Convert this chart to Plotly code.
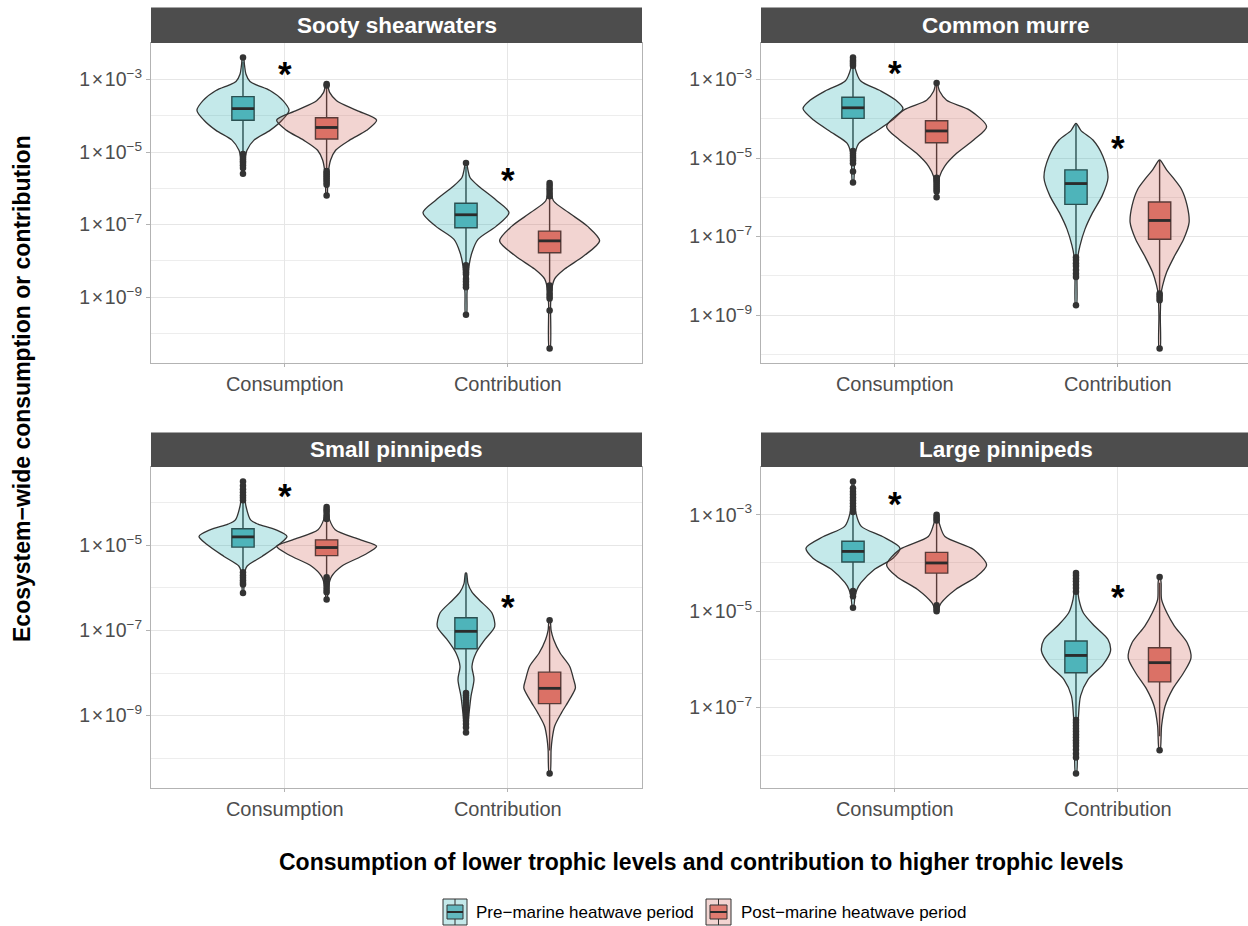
import numpy as np
import plotly.graph_objects as go

# ---------------------------------------------------------------------------
# Data (all values are log10 of ecosystem-wide consumption / contribution)
# *_lvl  : log10 levels along each violin outline (top to bottom)
# *_dens : kernel density height at those levels
# *_box  : [q1, median, q3, lower whisker, upper whisker]
# *_out  : outlying points
# ---------------------------------------------------------------------------
species = ["Sooty shearwaters", "Common murre", "Small pinnipeds", "Large pinnipeds"]
metrics = ["Consumption", "Contribution"]
periods = ["Pre\u2212marine heatwave period", "Post\u2212marine heatwave period"]

# Sooty shearwaters
sooty_cons_pre_lvl = [-2.39, -2.6, -2.85, -3.05, -3.15, -3.3, -3.58, -3.85, -4.12, -4.4, -4.67, -4.95, -5.2, -5.6]
sooty_cons_pre_dens = [0.5, 1.5, 3, 7, 14, 27, 40, 46, 39, 27, 11, 4, 2, 0.5]
sooty_cons_pre_box = [-4.12, -3.80, -3.47, -5.02, -2.5]
sooty_cons_pre_out = [-2.39, -5.05, -5.1, -5.15, -5.2, -5.25, -5.3, -5.36, -5.44, -5.6]

sooty_cons_post_lvl = [-3.12, -3.35, -3.58, -3.85, -4.12, -4.4, -4.67, -4.95, -5.22, -5.5, -5.9, -6.2]
sooty_cons_post_dens = [0.5, 3, 10, 30, 50, 40, 23, 9, 4, 2, 1, 0.5]
sooty_cons_post_box = [-4.64, -4.32, -4.05, -5.5, -3.2]
sooty_cons_post_out = [-3.12, -3.16, -5.52, -5.57, -5.62, -5.67, -5.72, -5.78, -5.84, -5.9, -6.2]

sooty_contr_pre_lvl = [-5.30, -5.5, -5.7, -5.95, -6.32, -6.67, -7.05, -7.41, -7.77, -8.14, -8.5, -8.9, -9.49]
sooty_contr_pre_dens = [0.5, 2, 4, 13, 30, 43, 30, 12, 6, 3, 2, 1, 0.5]
sooty_contr_pre_box = [-7.09, -6.73, -6.41, -8.1, -5.4]
sooty_contr_pre_out = [-5.30, -8.12, -8.18, -8.25, -8.32, -8.37, -8.5, -8.58, -8.66, -8.73, -9.49]

sooty_contr_post_lvl = [-5.85, -6.1, -6.35, -6.67, -7.05, -7.45, -7.87, -8.23, -8.5, -8.8, -9.2, -10.42]
sooty_contr_post_dens = [0.5, 1.5, 4, 19, 38, 50, 34, 15, 5, 2, 1, 0.5]
sooty_contr_post_box = [-7.78, -7.45, -7.18, -8.65, -6.28]
sooty_contr_post_out = [-5.85, -5.92, -6.0, -6.07, -6.14, -6.22, -8.68, -8.75, -8.82, -8.9, -8.97, -9.04, -9.37, -10.42]

# Common murre
murre_cons_pre_lvl = [-2.44, -2.7, -3.03, -3.28, -3.53, -3.74, -4.04, -4.37, -4.62, -4.84, -5.1, -5.62]
murre_cons_pre_dens = [0.5, 2, 7.5, 27, 43, 50, 39, 20, 6, 2.5, 1.5, 0.5]
murre_cons_pre_box = [-3.99, -3.72, -3.45, -4.8, -2.7]
murre_cons_pre_out = [-2.44, -2.5, -2.55, -2.6, -2.65, -4.82, -4.88, -4.94, -5.0, -5.06, -5.13, -5.34, -5.62]

murre_cons_post_lvl = [-3.09, -3.3, -3.53, -3.78, -4.2, -4.54, -4.88, -5.21, -5.47, -5.75, -6.0]
murre_cons_post_dens = [0.5, 3, 10, 33, 50, 37, 20, 8, 3, 1.5, 0.5]
murre_cons_post_box = [-4.61, -4.31, -4.05, -5.45, -3.15]
murre_cons_post_out = [-3.09, -5.5, -5.55, -5.6, -5.65, -5.7, -5.75, -5.8, -5.85, -6.0]

murre_contr_pre_lvl = [-4.12, -4.3, -4.54, -4.96, -5.5, -5.97, -6.39, -6.81, -7.23, -7.49, -8.0, -8.75]
murre_contr_pre_dens = [0.5, 5, 17, 27, 32, 26, 16.6, 9, 4, 2, 1, 0.5]
murre_contr_pre_box = [-6.18, -5.65, -5.30, -7.5, -4.12]
murre_contr_pre_out = [-7.53, -7.6, -7.68, -7.75, -7.85, -7.95, -8.03, -8.75]

murre_contr_post_lvl = [-5.05, -5.3, -5.55, -5.80, -6.22, -6.64, -7.07, -7.49, -7.91, -8.25, -8.45, -9.0, -9.85]
murre_contr_post_dens = [0.5, 7, 15, 22, 27.6, 29.5, 24, 15, 7, 3, 1.5, 0.7, 0.5]
murre_contr_post_box = [-7.07, -6.59, -6.12, -8.42, -5.05]
murre_contr_post_out = [-8.45, -8.5, -8.56, -8.62, -9.85]

# Small pinnipeds
small_cons_pre_lvl = [-3.50, -3.8, -4.08, -4.40, -4.5, -4.63, -4.79, -4.98, -5.26, -5.49, -5.61, -5.9, -6.12]
small_cons_pre_dens = [0.5, 1.5, 3, 7.6, 15, 32.5, 44, 36, 19, 4, 2, 1, 0.5]
small_cons_pre_box = [-5.04, -4.80, -4.61, -5.6, -3.98]
small_cons_pre_out = [-3.50, -3.6, -3.68, -3.75, -3.82, -3.88, -3.94, -5.63, -5.7, -5.76, -5.82, -5.88, -5.92, -6.12]

small_cons_post_lvl = [-4.10, -4.4, -4.63, -4.87, -5.02, -5.22, -5.49, -5.73, -6.0, -6.27]
small_cons_post_dens = [0.5, 3, 8.6, 34, 50, 38, 15, 5, 1.5, 0.5]
small_cons_post_box = [-5.24, -5.05, -4.87, -5.72, -4.4]
small_cons_post_out = [-4.10, -4.15, -4.2, -4.26, -4.32, -4.38, -5.75, -5.8, -5.86, -5.92, -5.98, -6.04, -6.1, -6.27]

small_contr_pre_lvl = [-5.65, -5.9, -6.1, -6.3, -6.59, -6.91, -7.21, -7.53, -7.84, -8.15, -8.55, -8.95, -9.4]
small_contr_pre_dens = [0.5, 2, 6, 14, 26, 28.7, 19, 10, 6, 8, 5, 3, 0.5]
small_contr_pre_box = [-7.43, -7.02, -6.70, -8.45, -5.65]
small_contr_pre_out = [-8.47, -8.52, -8.58, -8.64, -8.7, -8.76, -8.82, -8.88, -8.94, -9.0, -9.06, -9.12, -9.2, -9.28, -9.4]

small_contr_post_lvl = [-6.76, -7.0, -7.21, -7.53, -7.84, -8.15, -8.35, -8.62, -8.93, -9.25, -9.56, -9.8, -10.36]
small_contr_post_dens = [0.5, 1.5, 4, 10.5, 20, 24, 25.8, 20, 12, 5, 2.5, 1.5, 0.5]
small_contr_post_box = [-8.72, -8.36, -7.98, -9.82, -6.9]
small_contr_post_out = [-6.76, -10.36]

# Large pinnipeds
large_cons_pre_lvl = [-2.31, -2.6, -2.97, -3.24, -3.45, -3.69, -3.90, -4.14, -4.41, -4.55, -4.7, -4.93]
large_cons_pre_dens = [0.5, 1.5, 3, 8.3, 29.5, 47, 40, 21, 8, 4, 2, 0.5]
large_cons_pre_box = [-3.98, -3.76, -3.55, -4.55, -2.98]
large_cons_pre_out = [-2.31, -2.45, -2.52, -2.58, -2.64, -2.7, -2.76, -2.82, -2.88, -2.94, -4.58, -4.63, -4.69, -4.93]

large_cons_post_lvl = [-3.0, -3.2, -3.45, -3.72, -4.04, -4.28, -4.55, -4.83, -5.0]
large_cons_post_dens = [0.5, 3, 8.3, 37, 50, 40, 19, 4.6, 0.5]
large_cons_post_box = [-4.21, -4.0, -3.78, -4.85, -3.14]
large_cons_post_out = [-3.0, -3.04, -3.08, -3.12, -4.88, -4.92, -4.96, -5.0]

large_contr_pre_lvl = [-4.21, -4.5, -4.76, -5.04, -5.31, -5.59, -5.83, -6.11, -6.42, -6.76, -7.18, -7.7, -8.37]
large_contr_pre_dens = [0.5, 1.5, 3, 7.4, 18.5, 32, 34.5, 27, 12, 4.6, 2.5, 1.5, 0.5]
large_contr_pre_box = [-6.28, -5.92, -5.62, -7.24, -4.65]
large_contr_pre_out = [-4.21, -4.26, -4.32, -4.38, -4.45, -4.52, -4.6, -7.26, -7.32, -7.38, -7.44,
                       -7.5, -7.56, -7.62, -7.68, -7.74, -7.8, -7.88, -7.96, -8.04, -8.37]

large_contr_post_lvl = [-4.29, -4.41, -4.76, -5.04, -5.31, -5.66, -5.97, -6.28, -6.62, -6.97, -7.38, -7.89]
large_contr_post_dens = [0.5, 1.5, 2, 7.4, 14.8, 27.7, 31.4, 24, 13, 5.5, 2, 0.5]
large_contr_post_box = [-6.47, -6.07, -5.76, -7.6, -4.41]
large_contr_post_out = [-4.29, -7.89]

# Significance markers (log10 position of the "*" above each metric)
sig_cons = [-2.62, -2.62, -3.63, -2.59]
sig_contr = [-5.54, -4.54, -6.24, -4.54]

# ---------------------------------------------------------------------------
# Assemble lookup table from the lists above
# ---------------------------------------------------------------------------
keys = ["sooty", "murre", "small", "large"]
mkeys = ["cons", "contr"]
pkeys = ["pre", "post"]
g = globals()
table = {}
for s in keys:
    for m in mkeys:
        for p in pkeys:
            base = f"{s}_{m}_{p}"
            table[(s, m, p)] = dict(lvl=g[base + "_lvl"], dens=g[base + "_dens"],
                                    box=g[base + "_box"], out=g[base + "_out"])

# ---------------------------------------------------------------------------
# Styling / layout constants
# ---------------------------------------------------------------------------
FONT = "Liberation Sans, Arial, Helvetica, sans-serif"
W, H = 1248, 926
VIOLIN_FILL = {"pre": "rgba(20,168,172,0.25)", "post": "rgba(203,83,71,0.25)"}
BOX_FILL = {"pre": "#62B8BF", "post": "#E07B70"}
INK = "#333333"
GRID = "#E6E6E6"
BORDER = "#B3B3B3"
STRIP = "#4D4D4D"
DODGE = {"pre": -0.1875, "post": 0.1875}
BOX_W = 0.1
DENS_TO_X = 1 / 223.0

col_px = [(151, 642), (761, 1248)]
row_px = [(43, 363), (467, 788)]
strip_px = [(7.5, 43), (432.5, 467)]


def fx(p):
    return p / W


def fy(p):
    return 1 - p / H


fig = go.Figure()
layout = dict(
    width=W, height=H, margin=dict(l=0, r=0, t=0, b=0),
    paper_bgcolor="white", plot_bgcolor="white", showlegend=False,
    font=dict(family=FONT, color="#4D4D4D"),
)
shapes, annotations = [], []

for i, s in enumerate(keys):
    row, col = divmod(i, 2)
    xa = "x" if i == 0 else f"x{i + 1}"
    ya = "y" if i == 0 else f"y{i + 1}"
    xname = "xaxis" if i == 0 else f"xaxis{i + 1}"
    yname = "yaxis" if i == 0 else f"yaxis{i + 1}"

    # y range from the data extent with 5% expansion (ggplot style)
    allv = []
    for m in mkeys:
        for p in pkeys:
            d = table[(s, m, p)]
            allv += d["lvl"] + d["out"]
    lo, hi = min(allv), max(allv)
    pad = 0.05 * (hi - lo)
    yr = [lo - pad, hi + pad]

    x0, x1 = col_px[col]
    xr_hi = 0.4 + (x1 - x0) / 223.0
    major = [k for k in range(-12, 0) if k % 2 != 0 and yr[0] <= k <= yr[1]]
    minor = [k for k in range(-12, 0) if k % 2 == 0 and yr[0] <= k <= yr[1]]

    layout[xname] = dict(
        domain=[fx(x0), fx(x1)], range=[0.4, xr_hi], anchor=ya,
        tickvals=[1, 2], ticktext=metrics, showgrid=True, gridcolor=GRID, gridwidth=1,
        zeroline=False, showline=True, mirror=True, linecolor=BORDER, linewidth=1,
        ticks="outside", ticklen=3, tickcolor=BORDER,
        tickfont=dict(size=20, color="#4D4D4D", family=FONT),
    )
    layout[yname] = dict(
        domain=[fy(row_px[row][1]), fy(row_px[row][0])], type="log", range=yr, anchor=xa,
        tickvals=[10.0 ** k for k in major],
        ticktext=[f"1\u200a\u00d7\u200a10<sup>\u2212{abs(k)}</sup>" for k in major],
        showgrid=True, gridcolor=GRID, gridwidth=1,
        minor=dict(tickvals=[10.0 ** k for k in minor], showgrid=True, gridcolor="#EDEDED",
                   gridwidth=1, ticks=""),
        zeroline=False, showline=True, mirror=True, linecolor=BORDER, linewidth=1,
        ticks="outside", ticklen=4, tickcolor=BORDER,
        tickfont=dict(size=19.5, color="#4D4D4D", family=FONT),
    )

    # facet strip
    sy0, sy1 = strip_px[row]
    shapes.append(dict(type="rect", xref="paper", yref="paper", x0=fx(x0), x1=fx(x1),
                       y0=fy(sy1), y1=fy(sy0), fillcolor=STRIP, line=dict(width=0), layer="above"))
    strip_cx = (x0 + x1) / 2 if col == 0 else (x0 + 1250.7) / 2
    annotations.append(dict(xref="paper", yref="paper", x=fx(strip_cx),
                            y=fy((sy0 + sy1) / 2), text=species[i], showarrow=False,
                            xanchor="center", yanchor="middle",
                            font=dict(size=22.5, color="white", family=FONT, weight="bold")))

    for mi, m in enumerate(mkeys):
        for p in pkeys:
            d = table[(s, m, p)]
            pos = mi + 1 + DODGE[p]
            lvl = np.array(d["lvl"])
            half = np.array(d["dens"]) * DENS_TO_X
            xs = np.concatenate([pos + half, (pos - half)[::-1], [pos + half[0]]])
            ys = np.concatenate([10.0 ** lvl, (10.0 ** lvl)[::-1], [10.0 ** lvl[0]]])
            fig.add_trace(go.Scatter(
                x=xs, y=ys, mode="lines", fill="toself", fillcolor=VIOLIN_FILL[p],
                line=dict(color=INK, width=1.3, shape="spline", smoothing=0.8),
                xaxis=xa, yaxis=ya, hoverinfo="skip"))

    for mi, m in enumerate(mkeys):
        for p in pkeys:
            d = table[(s, m, p)]
            pos = mi + 1 + DODGE[p]
            q1, med, q3, wlo, whi = d["box"]
            fig.add_trace(go.Box(
                x=[pos], q1=[10.0 ** q1], median=[10.0 ** med], q3=[10.0 ** q3],
                lowerfence=[10.0 ** wlo], upperfence=[10.0 ** whi],
                width=BOX_W, whiskerwidth=0, fillcolor=BOX_FILL[p], boxpoints=False,
                line=dict(color=INK, width=1.4), orientation="v",
                xaxis=xa, yaxis=ya, hoverinfo="skip"))
            fig.add_trace(go.Scatter(
                x=[pos - BOX_W / 2, pos + BOX_W / 2], y=[10.0 ** med, 10.0 ** med],
                mode="lines", line=dict(color="#2B2B2B", width=2.8),
                xaxis=xa, yaxis=ya, hoverinfo="skip"))
            fig.add_trace(go.Scatter(
                x=[pos] * len(d["out"]), y=[10.0 ** v for v in d["out"]], mode="markers",
                marker=dict(color=INK, size=6.5, line=dict(width=0)),
                xaxis=xa, yaxis=ya, hoverinfo="skip"))

    # significance asterisks
    for mi, yv in enumerate([sig_cons[i], sig_contr[i]]):
        annotations.append(dict(xref=xa, yref=ya, x=mi + 1, y=yv, text="*", showarrow=False,
                                xanchor="center", yanchor="middle", yshift=-8,
                                font=dict(size=35, color="black", family=FONT, weight="bold")))

# axis titles
annotations.append(dict(xref="paper", yref="paper", x=fx(701), y=fy(862),
                        text="Consumption of lower trophic levels and contribution to higher trophic levels",
                        showarrow=False, xanchor="center", yanchor="middle",
                        font=dict(size=23, color="black", family=FONT, weight="bold")))
annotations.append(dict(xref="paper", yref="paper", x=fx(22), y=fy(389),
                        text="Ecosystem\u2212wide consumption or contribution", textangle=-90,
                        showarrow=False, xanchor="center", yanchor="middle",
                        font=dict(size=23, color="black", family=FONT, weight="bold")))

# legend keys (violin swatch with box glyph) and labels
leg_keys = [(443, 467, 474), (706, 731, 739)]
ky0, ky1 = 899, 925
for (kx0, kx1, tx), p, label in zip(leg_keys, pkeys, periods):
    kc = (kx0 + kx1) / 2
    shapes.append(dict(type="rect", xref="paper", yref="paper", x0=fx(kx0), x1=fx(kx1),
                       y0=fy(ky1), y1=fy(ky0), fillcolor=VIOLIN_FILL[p], line=dict(color=INK, width=1)))
    shapes.append(dict(type="line", xref="paper", yref="paper", x0=fx(kc), x1=fx(kc),
                       y0=fy(ky1), y1=fy(ky0), line=dict(color=INK, width=1)))
    shapes.append(dict(type="rect", xref="paper", yref="paper", x0=fx(kx0 + 4), x1=fx(kx1 - 4),
                       y0=fy(ky1 - 6), y1=fy(ky0 + 6), fillcolor=BOX_FILL[p], line=dict(color=INK, width=1)))
    shapes.append(dict(type="line", xref="paper", yref="paper", x0=fx(kx0 + 4), x1=fx(kx1 - 4),
                       y0=fy((ky0 + ky1) / 2), y1=fy((ky0 + ky1) / 2), line=dict(color="#2B2B2B", width=2)))
    annotations.append(dict(xref="paper", yref="paper", x=fx(tx), y=fy((ky0 + ky1) / 2), text=label,
                            showarrow=False, xanchor="left", yanchor="middle",
                            font=dict(size=17, color="black", family=FONT)))

layout["shapes"] = shapes
layout["annotations"] = annotations
fig.update_layout(**layout)
fig.write_html("out.html")
